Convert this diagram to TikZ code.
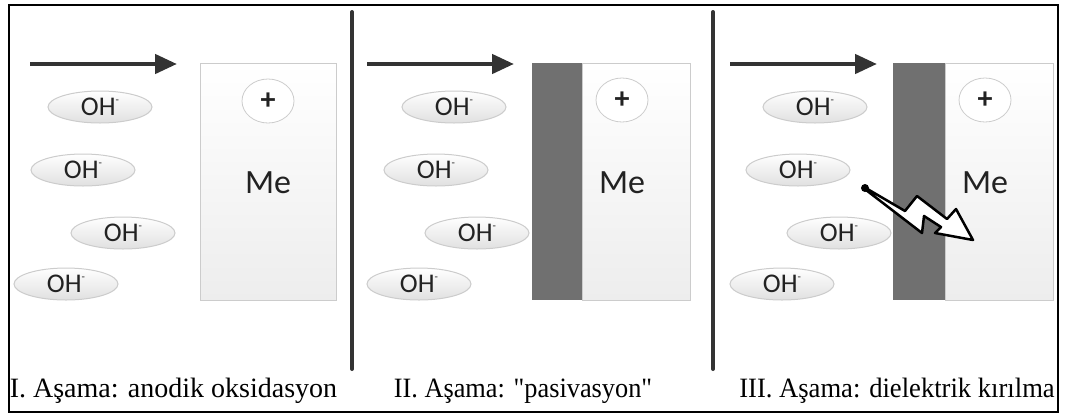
\documentclass[tikz,border=0pt]{standalone}
\usepackage{fontspec}
\setmainfont{Liberation Serif}
\newfontfamily\calib{Carlito}
\usetikzlibrary{arrows.meta,shapes.geometric}

\definecolor{ink}{HTML}{333333}
\definecolor{oxide}{HTML}{707070}
\definecolor{softedge}{HTML}{CCCCCC}
\definecolor{metalgray}{HTML}{EDEDED}
\definecolor{iongray}{HTML}{E0E0E0}
\definecolor{textgray}{HTML}{222222}

\tikzset{
  frame/.style={draw=black, line width=1.5pt},
  divider/.style={draw=ink, line width=4pt, line cap=round},
  flow/.style={draw=ink, line width=4.5pt, -{Triangle[length=22pt,width=19pt]}},
  ion/.style={ellipse, draw=softedge, line width=1pt, top color=white,
    bottom color=iongray, minimum width=104pt, minimum height=32pt,
    inner sep=0pt, text=textgray, font=\calib\fontsize{27}{27}\selectfont},
  metal/.style={rectangle, draw=softedge, line width=0.8pt, top color=white,
    bottom color=metalgray, inner sep=0pt},
  oxidebar/.style={rectangle, fill=oxide, draw=none, inner sep=0pt},
  charge/.style={ellipse, draw=softedge, line width=0.8pt, fill=white,
    minimum width=52pt, minimum height=44pt, inner sep=0pt, text=textgray,
    font=\calib\bfseries\fontsize{30}{30}\selectfont},
  metaltext/.style={font=\calib\fontsize{34}{34}\selectfont, inner sep=0pt, text=textgray},
  caption/.style={anchor=base, inner sep=0pt, font=\fontsize{28}{28}\selectfont},
  bolt/.style={draw=black, fill=white, line width=2.5pt, line join=round},
}
\newcommand{\ohion}{OH\raisebox{0.45em}{\fontsize{11}{11}\selectfont -}}
% straight double quote, taken as a glyph so no ligature mapping curls it
\newcommand{\stq}{\XeTeXglyph\XeTeXcharglyph"0022\relax}

\begin{document}
\begin{tikzpicture}[x=1pt, y=-1pt]
\useasboundingbox (0,0) rectangle (1065,416);

% outer frame
\draw[frame] (9,5) rectangle (1058,412);

% separators between the three stages
\coordinate (d1t) at (352,12);  \coordinate (d1b) at (352,369);
\coordinate (d2t) at (713,12);  \coordinate (d2b) at (713,369);
\draw[divider] (d1t) -- (d1b);
\draw[divider] (d2t) -- (d2b);

% ---------- stage I ----------
\coordinate (f1s) at (30,64);  \coordinate (f1e) at (177,64);
\draw[flow] (f1s) -- (f1e);
\node[metal, minimum width=136pt, minimum height=237pt] (m1) at (268,181.5) {};
\node[charge] (c1) at (268,101) {+};
\node[metaltext] (t1) at (268,183) {Me};
\node[ion] (i11) at (100,107) {\ohion};
\node[ion] (i12) at (83,170) {\ohion};
\node[ion] (i13) at (123,233) {\ohion};
\node[ion] (i14) at (66,284) {\ohion};
\node[caption] (cap1) at (173.5,397) {I. Aşama: anodik oksidasyon};

% ---------- stage II ----------
\coordinate (f2s) at (367,64);  \coordinate (f2e) at (514,64);
\draw[flow] (f2s) -- (f2e);
\node[metal, minimum width=108pt, minimum height=237pt] (m2) at (636,181.5) {};
\node[oxidebar, minimum width=50pt, minimum height=237pt] (o2) at (557,181.5) {};
\node[charge] (c2) at (622,100) {+};
\node[metaltext] (t2) at (622,183) {Me};
\node[ion] (i21) at (454,107) {\ohion};
\node[ion] (i22) at (436,170) {\ohion};
\node[ion] (i23) at (477,233) {\ohion};
\node[ion] (i24) at (419,284) {\ohion};
\node[caption, xscale=0.94] (cap2) at (523,397) {II. Aşama: \stq pasivasyon\stq};

% ---------- stage III ----------
\coordinate (f3s) at (730,64);  \coordinate (f3e) at (877,64);
\draw[flow] (f3s) -- (f3e);
\node[metal, minimum width=108pt, minimum height=237pt] (m3) at (999,181.5) {};
\node[oxidebar, minimum width=52pt, minimum height=237pt] (o3) at (919,181.5) {};
\node[charge] (c3) at (985,100) {+};
\node[metaltext] (t3) at (985,183) {Me};
\node[ion] (i31) at (815,107) {\ohion};
\node[ion] (i32) at (798,170) {\ohion};
\node[ion] (i33) at (839,233) {\ohion};
\node[ion] (i34) at (782,284) {\ohion};
\node[caption, xscale=0.95] (cap3) at (897,397) {III. Aşama: dielektrik kırılma};

% breakdown bolt through the oxide layer
\coordinate (b0) at (865,188);
\draw[bolt] (864,187) -- (905,211) -- (917,196) -- (947,219) -- (956,209)
  -- (973,240) -- (935,233) -- (941,227) -- (924,216) -- (922,233)
  -- (866,190) -- cycle;
\fill[black] (b0) circle (4pt);
\end{tikzpicture}
\end{document}
